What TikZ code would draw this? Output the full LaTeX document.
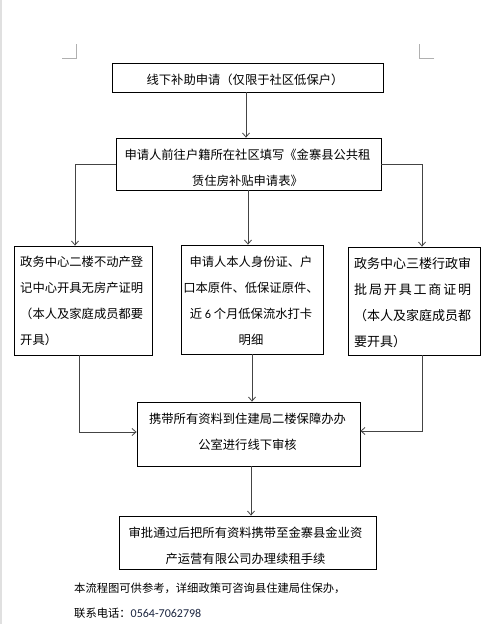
\documentclass[tikz,border=0pt]{standalone}
\usepackage{fontspec}
\setmainfont{Noto Sans CJK SC}
\newfontfamily\digitfont{Carlito}
\usetikzlibrary{arrows.meta}
\definecolor{linegray}{HTML}{444444}
\definecolor{markgray}{HTML}{B0B0B0}
\definecolor{digitblue}{HTML}{1C2640}
\tikzset{
  box/.style={draw=black, line width=0.8pt, inner sep=0pt},
  txt/.style={inner sep=0pt, font=\fontsize{12.3}{26}\selectfont},
  arr/.style={draw=linegray, line width=0.8pt, -{Straight Barb[length=4pt,width=7pt]}},
  ln/.style={draw=linegray, line width=0.8pt},
}
\begin{document}
\begin{tikzpicture}[x=1pt,y=-1pt]
\useasboundingbox (0,0) rectangle (491,624);
\fill[white] (0,0) rectangle (491,624);
\fill[black!12] (0,0) rectangle (2,624);
% corner marks
\draw[markgray, line width=0.6pt] (62,58) -- (76,58) -- (76,44);
\draw[markgray, line width=0.6pt] (434,58) -- (419,58) -- (419,44);

% boxes
\node[box, minimum width=271pt, minimum height=29pt] (b1) at (247.5,77.5) {};
\node[box, minimum width=265pt, minimum height=52pt] (b2) at (248.5,164) {};
\node[box, minimum width=138pt, minimum height=109pt] (b3) at (83,300.5) {};
\node[box, minimum width=142pt, minimum height=109pt] (b4) at (252,299.5) {};
\node[box, minimum width=132pt, minimum height=108pt] (b5) at (414,301) {};
\node[box, minimum width=223pt, minimum height=64pt] (b6) at (248.5,434) {};
\node[box, minimum width=257pt, minimum height=53pt] (b7) at (247.5,542.5) {};

% texts
\node[txt] (t1) at (245,80) {线下补助申请（仅限于社区低保户）};
\node[txt, align=center] (t2) at (247.5,168) {申请人前往户籍所在社区填写《金寨县公共租\\赁住房补贴申请表》};
\node[txt, align=left, anchor=west] (t3) at (20,301) {政务中心二楼不动产登\\记中心开具无房产证明\\（本人及家庭成员都要\\开具）};
\node[txt, align=center] (t4) at (251,301) {申请人本人身份证、户\\口本原件、低保证原件、\\近 {\digitfont 6} 个月低保流水打卡\\明细};
\node[txt, align=left, anchor=west, font=\fontsize{13}{26}\selectfont] (t5) at (354,302.5) {政务中心三楼行政审\\\makebox[117pt][s]{批\hfil 局\hfil 开\hfil 具\hfil 工\hfil 商\hfil 证\hfil 明}\\（本人及家庭成员都\\要开具）};
\node[txt, align=center] (t6) at (247.5,431.5) {携带所有资料到住建局二楼保障办办\\公室进行线下审核};
\node[txt, align=center] (t7) at (245.5,546) {审批通过后把所有资料携带至金寨县金业资\\产运营有限公司办理续租手续};
\node[txt, anchor=west, font=\fontsize{11.3}{25}\selectfont] (f1) at (74,588) {本流程图可供参考，详细政策可咨询县住建局住保办，};
\node[txt, anchor=west, font=\fontsize{11.3}{25}\selectfont] (f2) at (74,613) {联系电话：{\digitfont\fontsize{12}{14}\selectfont\color{digitblue}0564-7062798}};

% connectors
\draw[arr] (246,0 |- b1.south) -- (246,0 |- b2.north);
\draw[arr] (b2.west) -| (75,0 |- b3.north);
\draw[arr] (b2.east) -| (422,0 |- b5.north);
\draw[arr] (248,0 |- b2.south) -- (248,0 |- b4.north);
\draw[arr] (79,0 |- b3.south) |- (b6.west |- 0,432);
\draw[arr] (252,0 |- b4.south) -- (252,0 |- b6.north);
\draw[arr] (422,0 |- b5.south) |- (b6.east |- 0,431);
\draw[arr] (251,0 |- b6.south) -- (251,0 |- b7.north);
\end{tikzpicture}
\end{document}
